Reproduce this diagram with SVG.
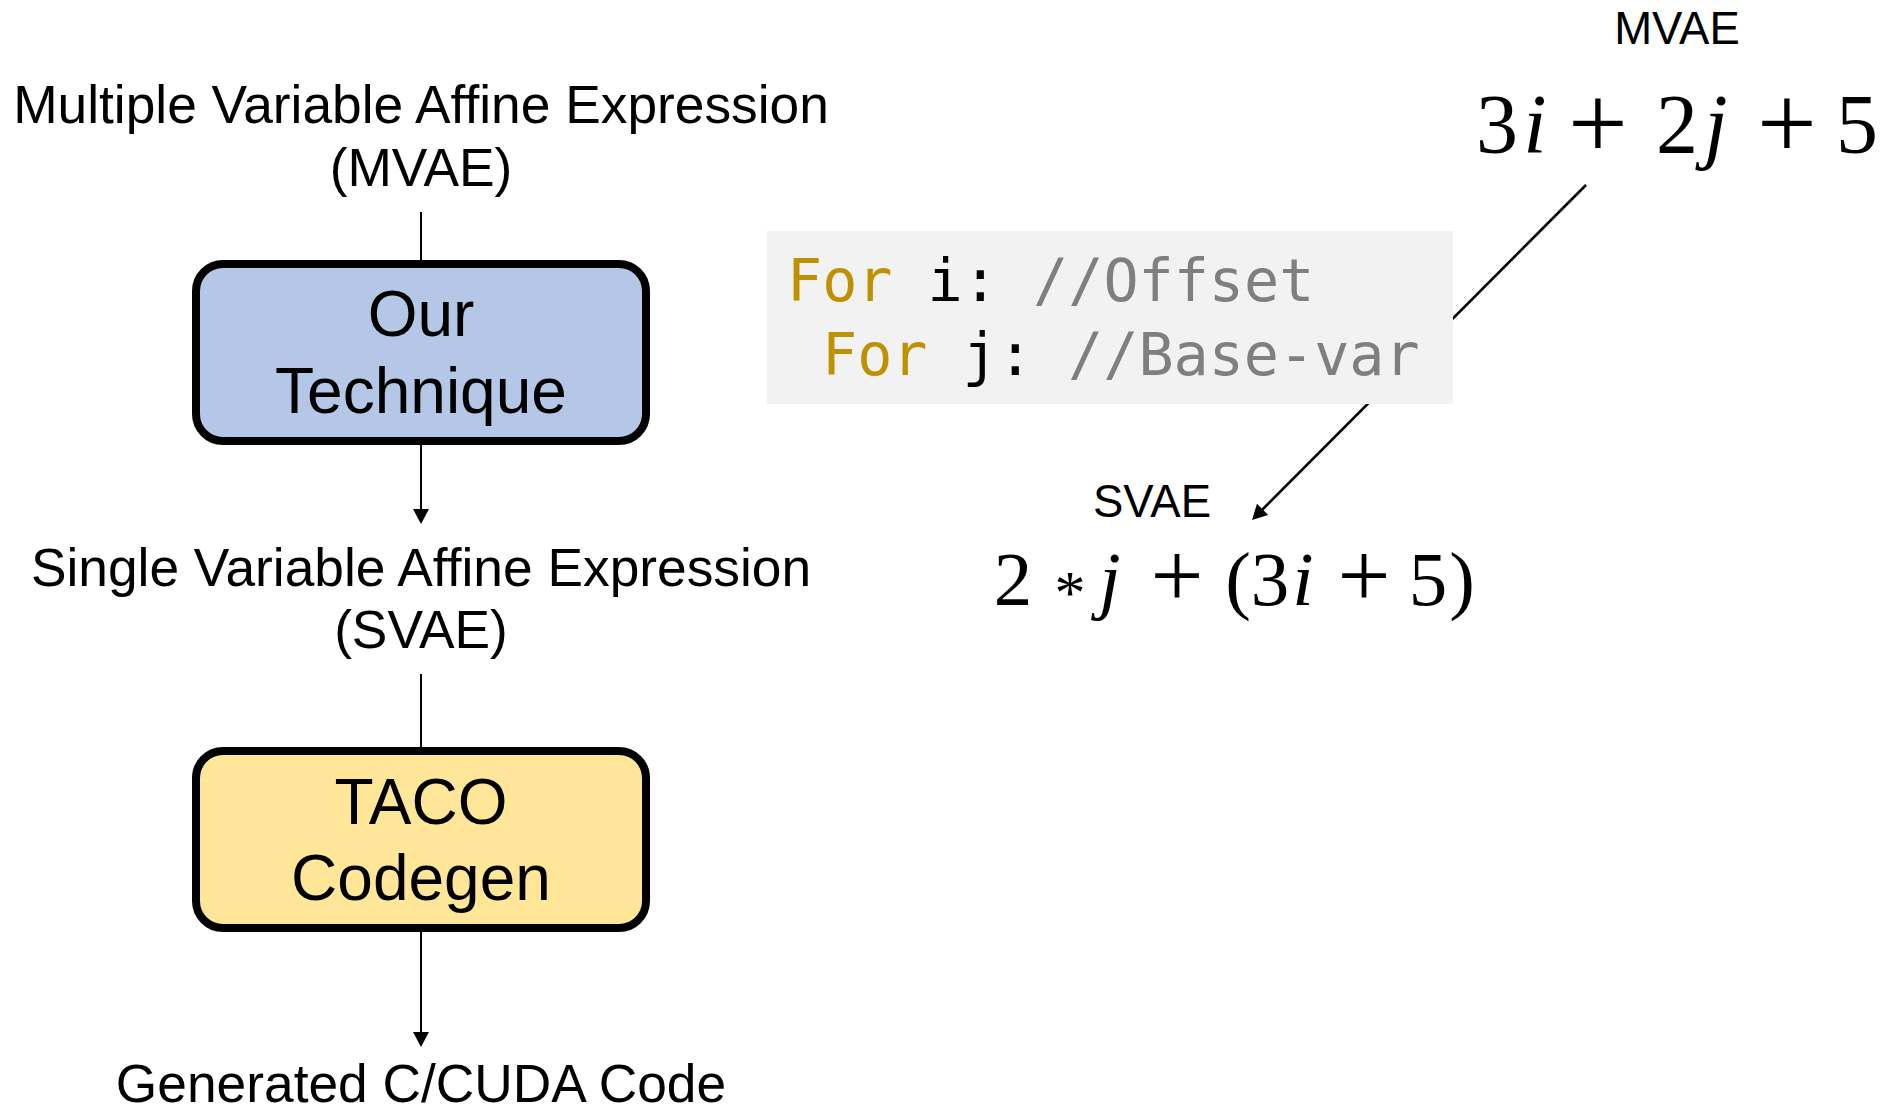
<svg xmlns="http://www.w3.org/2000/svg" width="1885" height="1113" viewBox="0 0 1885 1113">
  <defs>
    <style>
      .lbl { font-family: "Liberation Sans", Arial, sans-serif; fill: #000; text-anchor: middle; }
      .t53 { font-size: 53.3px; }
      .t45 { font-size: 45.5px; }
      .box { stroke: #000; stroke-width: 8; }
      .boxtxt { font-family: "Liberation Sans", Arial, sans-serif; font-size: 64px; fill: #000; text-anchor: middle; }
      .code { font-family: "DejaVu Sans Mono", "Liberation Mono", monospace; font-size: 58.4px; }
      .kw { fill: #BF9000; }
      .id { fill: #000; }
      .cm { fill: #7F7F7F; }
      .math { font-family: "Liberation Serif", "Times New Roman", serif; fill: #000; text-anchor: middle; }
      .it { font-style: italic; }
      .edge { stroke: #000; stroke-width: 2; fill: none; }
      .diag { stroke: #000; stroke-width: 2.6; fill: none; }
    </style>
    <marker id="arrow" markerUnits="userSpaceOnUse" markerWidth="16" markerHeight="17" refX="7" refY="8" orient="auto">
      <path d="M0,0 L15,8 L0,16 z" fill="#000"/>
    </marker>
  </defs>

  <rect width="1885" height="1113" fill="#fff"/>

  <!-- connectors -->
  <g id="connectors">
    <line class="edge" x1="421" y1="212" x2="421" y2="262"/>
    <line class="edge" x1="421" y1="445" x2="421" y2="516" marker-end="url(#arrow)"/>
    <line class="edge" x1="421" y1="674" x2="421" y2="748"/>
    <line class="edge" x1="421" y1="932" x2="421" y2="1039" marker-end="url(#arrow)"/>
    <line class="diag" x1="1586" y1="185" x2="1257.7" y2="514.3" marker-end="url(#arrow)"/>
  </g>

  <!-- input label -->
  <g id="mvae-label">
    <text class="lbl t53" x="421" y="123">Multiple Variable Affine Expression</text>
    <text class="lbl t53" x="421" y="186">(MVAE)</text>
  </g>

  <!-- transformation step -->
  <g id="our-technique">
    <rect class="box" x="196" y="264" width="450" height="177" rx="27" ry="27" fill="#B4C7E7"/>
    <text class="boxtxt" x="421" y="336">Our</text>
    <text class="boxtxt" x="421" y="413">Technique</text>
  </g>

  <g id="svae-label">
    <text class="lbl t53" x="421" y="586">Single Variable Affine Expression</text>
    <text class="lbl t53" x="421" y="648">(SVAE)</text>
  </g>

  <!-- code generation step -->
  <g id="taco-codegen">
    <rect class="box" x="196" y="751" width="450" height="177" rx="27" ry="27" fill="#FFE699"/>
    <text class="boxtxt" x="421" y="824">TACO</text>
    <text class="boxtxt" x="421" y="900">Codegen</text>
  </g>

  <g id="output-label">
    <text class="lbl t53" x="421" y="1102">Generated C/CUDA Code</text>
  </g>

  <!-- loop nest example -->
  <g id="loop-code">
    <rect x="767" y="231" width="686" height="173" fill="#F2F2F2"/>
    <text class="code" x="787" y="301" xml:space="preserve"><tspan class="kw">For</tspan><tspan class="id"> i: </tspan><tspan class="cm">//Offset</tspan></text>
    <text class="code" x="822" y="375" xml:space="preserve"><tspan class="kw">For</tspan><tspan class="id"> j: </tspan><tspan class="cm">//Base-var</tspan></text>
  </g>

  <!-- multi-variable expression: each glyph placed on its own -->
  <g id="mvae-expr">
    <text class="lbl t45" x="1677" y="44">MVAE</text>
    <text class="math" font-size="84"><tspan x="1497" y="153">3</tspan><tspan class="it" x="1535" y="153">i</tspan><tspan x="1598" y="159" font-size="106">+</tspan><tspan x="1677" y="153">2</tspan><tspan class="it" x="1716" y="153">j</tspan><tspan x="1787" y="159" font-size="106">+</tspan><tspan x="1857" y="153">5</tspan></text>
  </g>

  <!-- single-variable expression -->
  <g id="svae-expr">
    <text class="lbl t45" x="1152" y="517">SVAE</text>
    <text class="math" font-size="77"><tspan x="1013" y="605">2</tspan><tspan x="1070" y="613" font-size="62">*</tspan><tspan class="it" x="1110" y="605">j</tspan><tspan x="1177" y="607" font-size="94">+</tspan><tspan x="1238" y="605">(</tspan><tspan x="1270" y="605">3</tspan><tspan class="it" x="1303" y="605">i</tspan><tspan x="1364" y="607" font-size="94">+</tspan><tspan x="1428" y="605">5</tspan><tspan x="1462" y="605">)</tspan></text>
  </g>
</svg>
